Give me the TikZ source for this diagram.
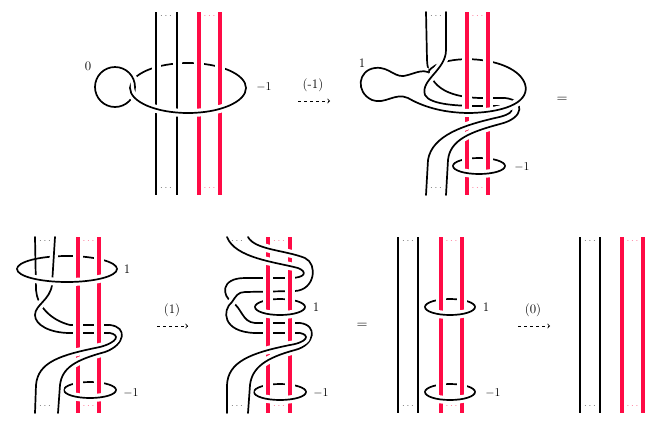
\documentclass[tikz,border=0pt]{standalone}
\begin{document}
\begin{tikzpicture}[x=1pt,y=-1pt,
  k/.style={line width=1.7pt,line cap=round},
  ov/.style={k,preaction={draw=white,line width=8pt,line cap=butt}},
  kv/.style={line width=1.7pt,preaction={draw=white,line width=9pt}},
  rd/.style={line width=3.6pt,draw=kred,preaction={draw=white,line width=10pt}},
  lab/.style={font=\fontsize{13}{15}\selectfont},
  dt/.style={font=\normalsize,inner sep=0pt}]
\definecolor{kred}{HTML}{FF0A45}
\useasboundingbox (0,0) rectangle (663,429);
\newcommand\rback[4]{\draw[k] ({#1-#3},#2) arc[start angle=180,end angle=360,x radius=#3,y radius=#4];}
\newcommand\rfront[4]{\draw[ov] ({#1+#3},#2) arc[start angle=0,end angle=180,x radius=#3,y radius=#4];}
\newcommand\reds[4]{\draw[rd] (#1,#3) -- (#1,#4); \draw[rd] (#2,#3) -- (#2,#4);}
\newcommand\rdots[4]{\node[dt,text=kred!60] at ({(#1+#2)/2},{#3+4}) {$\cdots$};
  \node[dt,text=kred!60] at ({(#1+#2)/2},{#4-7}) {$\cdots$};}
\newcommand\bdots[3]{\node[dt,text=black!60] at (#1,{#2+4}) {$\cdots$};\node[dt,text=black!60] at (#1,{#3-7}) {$\cdots$};}

% ---------- panel 1
\rback{188}{88}{58}{25}
\draw[ov] (115,87) circle[radius=20];
\draw[kv] (156,12) -- (156,195); \draw[kv] (177,12) -- (177,195);
\reds{199}{220}{12}{195}
\rfront{188}{88}{58}{25}
\bdots{166}{12}{195}\rdots{199}{220}{12}{195}
\node[lab] at (88,66) {0};
\node[lab] at (264,87) {$-1$};
\node[lab] at (313,85) {(-1)};
\draw[dashed,->,thick] (298,101) -- (330,101);

% ---------- panel 2
\draw[k] (428,72) .. controls (440,52) and (515,55) .. (525,84);
\draw[k] (426,12) -- (427,60) .. controls (428,85) and (445,97) .. (480,98) -- (505,98);
\draw[ov] (446,12) -- (446,50) .. controls (446,70) and (420,80) .. (425,95) .. controls (430,105) and (460,106) .. (480,106) -- (505,106);
\rback{479}{166}{26}{8}
\reds{467}{488}{12}{195}
\rfront{479}{166}{26}{8}
\draw[ov] (505,98) .. controls (525,100) and (525,118) .. (500,124) .. controls (470,132) and (450,140) .. (448,160) -- (446,195);
\draw[ov] (505,106) .. controls (515,108) and (515,114) .. (495,118) .. controls (465,125) and (432,135) .. (428,160) -- (426,195);
\draw[ov] (525,84) .. controls (530,100) and (510,112) .. (470,113) .. controls (440,113) and (420,105) .. (408,98)
  .. controls (395,92) and (385,105) .. (372,100) .. controls (355,92) and (358,70) .. (375,68)
  .. controls (390,66) and (395,80) .. (408,75) .. controls (418,72) and (422,70) .. (428,72);
\bdots{436}{12}{195}\rdots{467}{488}{12}{195}
\node[lab] at (362,63) {1};
\node[lab] at (522,167) {$-1$};
\node[font=\Large] at (562,100) {$=$};

% ---------- panel 3
\rback{67}{269}{50}{13}
\draw[k] (35,237) -- (36,290) .. controls (37,305) and (50,320) .. (70,325) -- (110,325);
\draw[ov] (55,237) -- (52,285) .. controls (50,300) and (35,305) .. (35,315) .. controls (35,325) and (50,333) .. (70,333) -- (110,333);
\rback{90}{390}{26}{8}
\reds{78}{99}{237}{413}
\rfront{90}{390}{26}{8}
\draw[ov] (110,325) .. controls (128,327) and (125,345) .. (105,352) .. controls (75,360) and (62,368) .. (60,385) -- (58,413);
\draw[ov] (110,333) .. controls (120,335) and (118,342) .. (100,347) .. controls (60,355) and (38,362) .. (36,385) -- (35,413);
\rfront{67}{269}{50}{13}
\bdots{45}{237}{413}\rdots{78}{99}{237}{413}
\node[lab] at (127,269) {1};
\node[lab] at (131,393) {$-1$};
\node[lab] at (172,310) {(1)};
\draw[dashed,->,thick] (157,326) -- (188,326);

% ---------- panel 4
\draw[k] (298,268) .. controls (308,272) and (305,278) .. (290,278) -- (245,278)
   .. controls (220,278) and (222,296) .. (232,302) .. controls (242,308) and (242,322) .. (255,323) -- (300,323);
\draw[ov] (305,258) .. controls (318,264) and (315,290) .. (295,291) -- (245,292)
   .. controls (238,292) and (236,296) .. (232,302) .. controls (222,310) and (222,332) .. (255,333) -- (300,333);
\rback{280}{307}{25}{8}
\rback{280}{392}{26}{8}
\reds{268}{290}{237}{413}
\rfront{280}{307}{25}{8}
\rfront{280}{392}{26}{8}
\draw[ov] (227,237) .. controls (235,258) and (275,262) .. (298,268);
\draw[ov] (248,237) .. controls (255,250) and (285,250) .. (305,258);
\draw[ov] (300,323) .. controls (318,325) and (315,345) .. (295,350) .. controls (265,358) and (252,368) .. (250,385) -- (248,413);
\draw[ov] (300,333) .. controls (310,335) and (308,342) .. (290,345) .. controls (250,353) and (228,362) .. (227,385) -- (227,413);
\bdots{237}{237}{413}\rdots{268}{290}{237}{413}
\node[lab] at (316,307) {1};
\node[lab] at (321,393) {$-1$};
\node[font=\Large] at (362,326) {$=$};

% ---------- panel 5
\rback{450}{307}{25}{8}
\rback{450}{392}{25}{8}
\draw[kv] (398,237) -- (398,413); \draw[kv] (418,237) -- (418,413);
\reds{441}{462}{237}{413}
\rfront{450}{307}{25}{8}
\rfront{450}{392}{25}{8}
\bdots{408}{237}{413}\rdots{441}{462}{237}{413}
\node[lab] at (486,307) {1};
\node[lab] at (493,393) {$-1$};
\node[lab] at (533,310) {(0)};
\draw[dashed,->,thick] (518,326) -- (550,326);

% ---------- panel 6
\draw[kv] (580,237) -- (580,413); \draw[kv] (600,237) -- (600,413);
\reds{622}{643}{237}{413}
\bdots{590}{237}{413}\rdots{622}{643}{237}{413}
\end{tikzpicture}
\end{document}
